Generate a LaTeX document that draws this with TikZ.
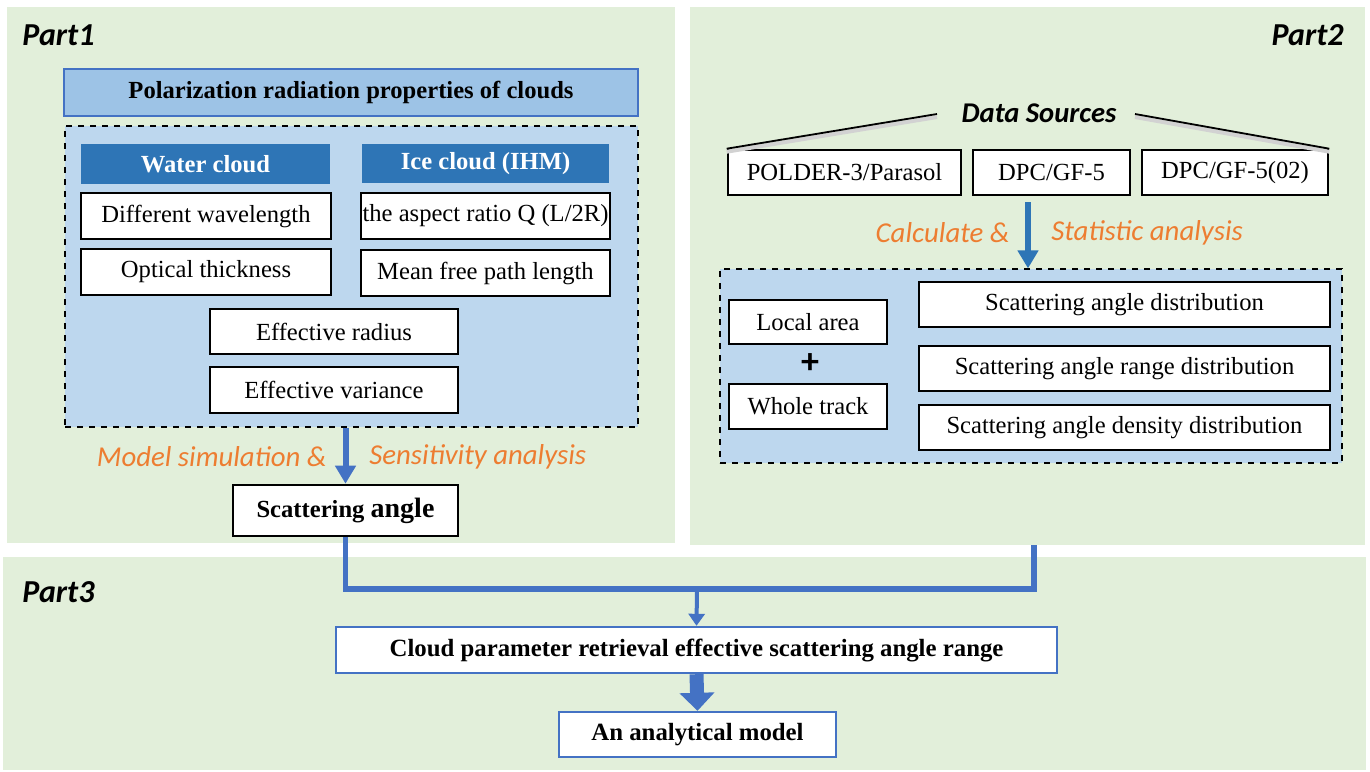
\documentclass[tikz,border=0pt]{standalone}
\usepackage{fontspec}
\setmainfont{Liberation Serif}
\newfontfamily\calib{Carlito}
\usetikzlibrary{arrows.meta}
\definecolor{pgreen}{HTML}{E2EFDA}
\definecolor{lblue}{HTML}{BDD7EE}
\definecolor{tblue}{HTML}{9DC3E6}
\definecolor{hblue}{HTML}{2E75B6}
\definecolor{ablue}{HTML}{4472C4}
\definecolor{orng}{HTML}{ED7D31}
\tikzset{
  panel/.style={fill=pgreen, draw=none},
  wbox/.style={draw=black, fill=white, line width=1.3pt, inner sep=0pt, font=\fontsize{12.3}{14}\selectfont},
  bbox/.style={draw=ablue, fill=white, line width=1.2pt, inner sep=0pt, font=\fontsize{12.4}{14}\selectfont\bfseries},
  hdr/.style={fill=hblue, draw=none, text=white, inner sep=0pt, font=\fontsize{12.3}{14}\selectfont\bfseries},
  dbox/.style={draw=black, dashed, fill=lblue, line width=0.6pt, inner sep=0pt},
  partlbl/.style={font=\calib\fontsize{16}{18}\selectfont\bfseries\itshape, inner sep=0pt},
  olbl/.style={font=\calib\fontsize{14.4}{16}\selectfont\itshape, text=orng, inner sep=0pt},
  barrow/.style={draw=ablue, line width=3pt, -{Triangle[width=10pt,length=9pt]}},
  conn/.style={draw=ablue, line width=2.6pt},
  tarrow/.style={draw=ablue, line width=2pt, -{Triangle[width=8pt,length=6pt]}},
  farrow/.style={draw=ablue, line width=7pt, -{Triangle[width=17pt,length=9pt]}},
}
\begin{document}
\begin{tikzpicture}[x=0.5pt, y=-0.5pt]
\useasboundingbox (0,0) rectangle (1370,771);
% panels
\fill[white] (0,0) rectangle (1370,771);
\fill[panel] (7,7) rectangle (675,543);
\fill[panel] (690,7) rectangle (1365,545);
\fill[panel] (3,557) rectangle (1366,770);
\node[partlbl, anchor=west] (p1) at (22,35) {Part1};
\node[partlbl, anchor=east] (p2) at (1344,35) {Part2};
\node[partlbl, anchor=west] (p3) at (22,592) {Part3};

% Part1
\node[draw=ablue, fill=tblue, line width=1.1pt, inner sep=0pt, minimum width=287pt, minimum height=23.5pt, font=\fontsize{12.3}{14}\selectfont\bfseries] (title) at (351,92.5) {Polarization radiation properties of clouds};
\node[dbox, minimum width=286.5pt, minimum height=150.5pt] (d1) at (351.5,276.5) {};
\node[hdr, minimum width=124.5pt, minimum height=20pt] (water) at (205.5,164) {Water cloud};
\node[hdr, minimum width=123.5pt, minimum height=19.5pt] (ice) at (485.5,163.5) {Ice cloud (IHM)};
\node[wbox, minimum width=125pt, minimum height=23pt] (diffwl) at (206,216) {Different wavelength};
\node[wbox, minimum width=124.5pt, minimum height=23pt] (aspect) at (485.5,216) {the aspect ratio Q (L/2R)};
\node[wbox, minimum width=125pt, minimum height=23pt] (optical) at (206,272) {Optical thickness};
\node[wbox, minimum width=124.5pt, minimum height=23pt] (meanfree) at (485.5,273) {Mean free path length};
\node[wbox, minimum width=124pt, minimum height=22.5pt] (effrad) at (334,331.5) {Effective radius};
\node[wbox, minimum width=124pt, minimum height=23pt] (effvar) at (334,390) {Effective variance};
\node[wbox, minimum width=112.5pt, minimum height=25.5pt] (scat) at (345.5,510.5) {\textbf{Scattering} {\fontsize{14}{16}\selectfont\bfseries angle}};
\draw[barrow] (scat.north |- d1.south) -- (scat.north);
\node[olbl, anchor=east] (ms) at (327,457) {Model simulation \&};
\node[olbl, anchor=west] (sa) at (369,457) {Sensitivity analysis};

% Part2
\node[font=\calib\fontsize{14.3}{16}\selectfont\bfseries\itshape, inner sep=0pt] (ds) at (1039,113) {Data Sources};
\node[wbox, minimum width=116.5pt, minimum height=22.5pt] (polder) at (844.5,172.5) {POLDER-3/Parasol};
\node[wbox, minimum width=78.5pt, minimum height=22.5pt] (dpc) at (1051.5,172.5) {DPC/GF-5};
\node[wbox, minimum width=93pt, minimum height=22.5pt] (dpc2) at (1235,172.5) {DPC/GF-5(02)};
\coordinate (dsl) at (937,114);
\coordinate (dsr) at (1135,114);
\draw[gray!35, line width=2pt] ([yshift=-1.5pt]dsl) -- ([yshift=-1.5pt]polder.north west);
\draw[gray!35, line width=2pt] ([yshift=-1.5pt]dsr) -- ([yshift=-1.5pt]dpc2.north east);
\draw[black, line width=0.9pt] (dsl) -- (polder.north west);
\draw[black, line width=0.9pt] (dsr) -- (dpc2.north east);
\node[dbox, minimum width=311pt, minimum height=97pt] (d2) at (1031,366) {};
\coordinate (a2s) at (1028,202);
\draw[barrow, draw=hblue] (a2s) -- (a2s |- d2.north);
\node[olbl, anchor=east] (calc) at (1010,233) {Calculate \&};
\node[olbl, anchor=west] (stat) at (1051,233) {Statistic analysis};
\node[wbox, minimum width=205.5pt, minimum height=22.5pt] (sad) at (1124.5,304.5) {Scattering angle distribution};
\node[wbox, minimum width=205.5pt, minimum height=22.5pt] (sard) at (1124.5,368.5) {Scattering angle range distribution};
\node[wbox, minimum width=205.5pt, minimum height=22.5pt] (sadd) at (1124.5,427.5) {Scattering angle density distribution};
\node[wbox, minimum width=79pt, minimum height=22pt] (local) at (808,322) {Local area};
\node[wbox, minimum width=79pt, minimum height=22.5pt] (whole) at (808,406.5) {Whole track};
\node[font=\calib\fontsize{18}{20}\selectfont\bfseries, inner sep=0pt] (plus) at (810,364) {+};

% Part3
\node[bbox, minimum width=360.5pt, minimum height=23pt] (cloud) at (696.5,650) {Cloud parameter retrieval effective scattering angle range};
\node[bbox, minimum width=138.5pt, minimum height=22.5pt] (model) at (697.5,734.5) {An analytical model};
\coordinate (rj) at (1034,545);
\coordinate (mj) at (697,589);
\draw[conn] (scat.south) -- (scat.south |- mj) -- (rj |- mj) -- (rj);
\draw[tarrow] (mj) -- (cloud.north);
\draw[farrow] (cloud.south) -- (model.north);
\end{tikzpicture}
\end{document}
